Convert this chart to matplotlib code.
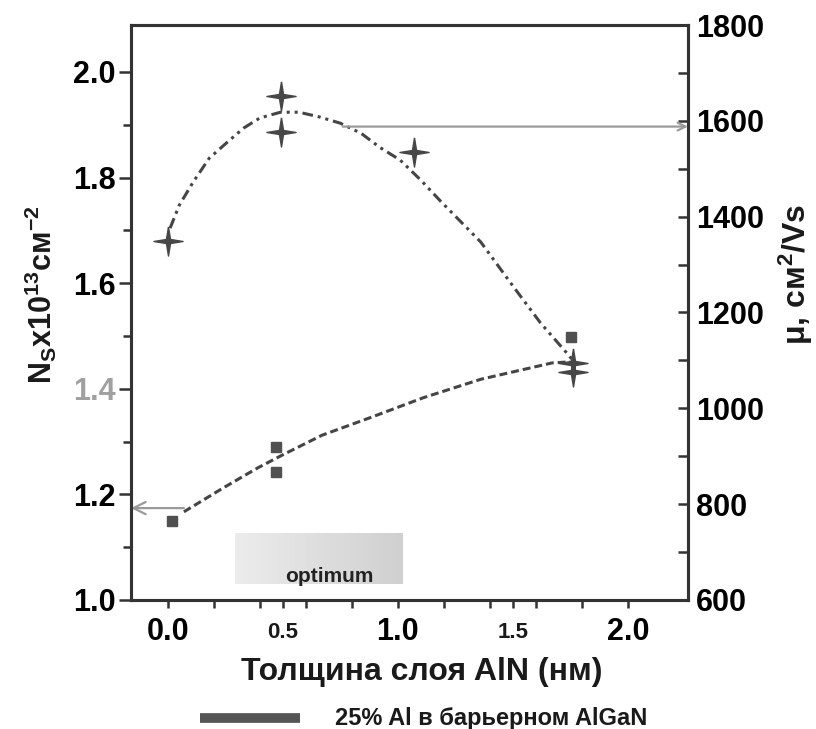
import numpy as np
import matplotlib
matplotlib.use('Agg')
import matplotlib.pyplot as plt
from matplotlib.path import Path
from matplotlib.lines import Line2D
from matplotlib.colors import LinearSegmentedColormap

plt.rcParams['font.family'] = ['Liberation Sans', 'DejaVu Sans']
plt.rcParams['font.weight'] = 'bold'
plt.rcParams['mathtext.fontset'] = 'custom'
plt.rcParams['mathtext.rm'] = 'Liberation Sans:bold'
plt.rcParams['mathtext.it'] = 'Liberation Sans:bold'
plt.rcParams['mathtext.bf'] = 'Liberation Sans:bold'
plt.rcParams['mathtext.default'] = 'rm'

# Mobility (right axis), stars
mu_x = [0.0, 0.49, 0.49, 1.07, 1.76, 1.76]
mu_y = [1350, 1652, 1577, 1535, 1094, 1076]
# Sheet density Ns (left axis), squares
ns_x = [0.02, 0.47, 0.47, 1.75]
ns_y = [1.150, 1.290, 1.242, 1.498]

# fit curves
mu_fit_x = [0.01, 0.05, 0.11, 0.18, 0.26, 0.33, 0.40, 0.49, 0.57, 0.66,
            0.75, 0.84, 0.92, 1.01, 1.10, 1.18, 1.36, 1.50, 1.62, 1.74, 1.76]
mu_fit_y = [1376, 1424, 1472, 1522, 1556, 1585, 1606, 1618, 1618, 1608,
            1595, 1574, 1545, 1518, 1476, 1435, 1347, 1255, 1178, 1112, 1100]
ns_fit_x = [0.07, 0.24, 0.39, 0.50, 0.67, 0.89, 1.11, 1.36, 1.53, 1.67, 1.75]
ns_fit_y = [1.167, 1.212, 1.250, 1.275, 1.312, 1.347, 1.383, 1.418, 1.435, 1.449, 1.451]

# arrows and optimum window
mu_arrow = (0.76, 1588)
ns_arrow = (0.07, 1.174)
opt_x = (0.29, 1.02)
opt_y = (1.03, 1.125)

x_major = [0.0, 1.0, 2.0]
x_major_labels = ['0.0', '1.0', '2.0']
x_half = [0.5, 1.5]
x_half_labels = ['0.5', '1.5']
x_minor = [0.2, 0.4, 0.6, 0.8, 1.2, 1.4, 1.6, 1.8]

dark = '#454545'
grey = '#9a9a9a'

star = Path([(0, 1), (0.14, 0.14), (1, 0), (0.14, -0.14), (0, -1),
             (-0.14, -0.14), (-1, 0), (-0.14, 0.14), (0, 1)])

fig = plt.figure(figsize=(8.16, 7.29), dpi=100)
ax = fig.add_axes([0.1605, 0.177, 0.6825, 0.7887])
ax2 = ax.twinx()

ax.set_xlim(-0.16, 2.26)
ax.set_ylim(1.0, 2.089)
ax2.set_ylim(600, 1800)

# optimum box
cmap = LinearSegmentedColormap.from_list('opt', ['#ececec', '#d0d0d0'])
ax.imshow(np.linspace(0, 1, 100).reshape(1, -1), cmap=cmap, aspect='auto',
          extent=[opt_x[0], opt_x[1], opt_y[0], opt_y[1]], zorder=1)
ax.text(0.70, 1.044, 'optimum', ha='center', va='center', fontsize=15,
        color='#222222', zorder=2)

ax.plot(ns_fit_x, ns_fit_y, color=dark, lw=2.2, ls=(0, (2.6, 1.3)), zorder=3)
ax.plot(ns_x, ns_y, ls='none', marker='s', ms=7.5, color='#505050', zorder=4)
ax.annotate('', xy=(0, ns_arrow[1]), xycoords=('axes fraction', 'data'),
            xytext=ns_arrow, textcoords='data',
            arrowprops=dict(arrowstyle='->', color=grey, lw=1.6,
                            shrinkA=0, shrinkB=0, mutation_scale=22))

ax2.plot(mu_fit_x, mu_fit_y, color=dark, lw=2.2,
         ls=(0, (3.5, 1.6, 1.0, 1.6, 1.0, 1.6)), zorder=3)
ax2.plot(mu_x, mu_y, ls='none', marker=star, ms=21, color='#474747',
         mec='#474747', zorder=4)
ax2.annotate('', xy=(1, mu_arrow[1]), xycoords=('axes fraction', 'data'),
             xytext=mu_arrow, textcoords='data',
             arrowprops=dict(arrowstyle='->', color=grey, lw=1.6,
                             shrinkA=0, shrinkB=0, mutation_scale=14))

# spines
for a in (ax, ax2):
    for s in a.spines.values():
        s.set_linewidth(2.2)
        s.set_color('#333333')

# x ticks
ax.set_xticks(x_major)
ax.set_xticklabels(x_major_labels)
ax.set_xticks(x_minor + x_half, minor=True)
ax.tick_params(axis='x', which='both', direction='out', length=6, width=1.8,
               color='#333333', labelsize=22, pad=6)
for t in ax.xaxis.get_minor_ticks():
    if t.get_loc() in x_half:
        t.tick1line.set_markeredgecolor('#888888')
for xv, lab in zip(x_half, x_half_labels):
    ax.text(xv, -0.0574, lab, transform=ax.get_xaxis_transform(),
            ha='center', va='center', fontsize=16, color='#1a1a1a')

# left y ticks
ax.set_yticks([1.0, 1.2, 1.4, 1.6, 1.8, 2.0])
ax.set_yticks([1.1, 1.3, 1.5, 1.7, 1.9], minor=True)
ax.tick_params(axis='y', which='major', direction='out', length=9, width=1.8,
               color='#333333', labelsize=22, pad=2)
ax.tick_params(axis='y', which='minor', direction='out', length=6, width=1.8,
               color='#333333')
for lab in ax.get_yticklabels():
    if lab.get_text() == '1.4':
        lab.set_color('#a0a0a0')

# right y ticks
ax2.set_yticks([600, 800, 1000, 1200, 1400, 1600, 1800])
ax2.set_yticks([700, 900, 1100, 1300, 1500, 1700], minor=True)
ax2.tick_params(axis='y', which='both', direction='in', length=7, width=1.8,
                color='#333333', labelsize=22, pad=6)

# axis labels
fig.text(0.050, 0.595, r'N$_{S}$x10$^{13}$см$^{-2}$', rotation=90,
         ha='center', va='center', fontsize=22, color='#1a1a1a')
fig.text(0.975, 0.623, r'μ, см$^{2}$/Vs', rotation=90,
         ha='center', va='center', fontsize=23, color='#1a1a1a')
fig.text(0.517, 1 - 672 / 729, 'Толщина слоя AlN (нм)', ha='center',
         va='center', fontsize=23, color='#1a1a1a')

# legend bar
fig.add_artist(Line2D([200 / 816, 300 / 816], [1 - 718 / 729] * 2,
                      lw=7, color='#555555', solid_capstyle='butt'))
fig.text(335 / 816, 1 - 718 / 729, '25% Al в барьерном AlGaN', ha='left',
         va='center', fontsize=17, color='#1a1a1a')

fig.savefig('out.png', dpi=100)
